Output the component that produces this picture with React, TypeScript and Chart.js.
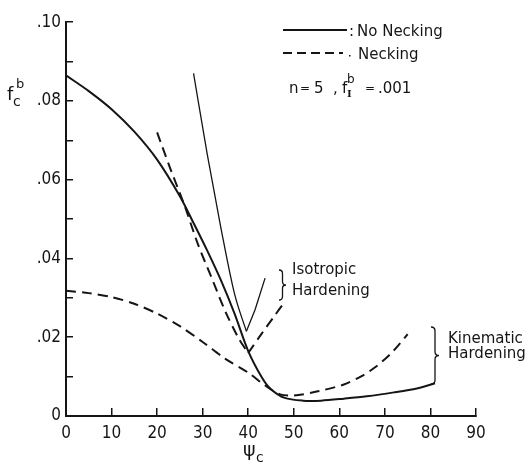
import React, { useEffect, useRef } from 'react';
import { Chart, registerables } from 'chart.js';

Chart.register(...registerables);

// ---- data ----
const xTickValues = [0, 10, 20, 30, 40, 50, 60, 70, 80, 90];
const yTickValues = [0, 0.01, 0.02, 0.03, 0.04, 0.05, 0.06, 0.07, 0.08, 0.09, 0.1];
const yTickLabels = ['0', '', '.02', '', '.04', '', '.06', '', '.08', '', '.10'];

// No necking, main curve (isotropic + kinematic branch)
const noNeckMainX = [0, 5, 10, 15, 20, 25, 28, 31, 34, 37, 40, 43, 45, 48, 52, 56, 61, 66, 72, 77, 81];
const noNeckMainY = [0.0865, 0.0825, 0.0779, 0.0722, 0.0651, 0.0558, 0.049, 0.042, 0.0345, 0.026, 0.0165, 0.0098, 0.0068, 0.0046, 0.0039, 0.0039, 0.0044, 0.005, 0.006, 0.007, 0.0083];

// No necking, isotropic hardening (thin line)
const noNeckIsoX = [28, 31, 34, 37, 39.6, 41.5, 43.7];
const noNeckIsoY = [0.087, 0.0665, 0.0478, 0.031, 0.0215, 0.027, 0.035];

// Necking, isotropic hardening
const neckIsoX = [20, 23, 26, 29, 32, 35, 38, 40, 43, 45.5, 48];
const neckIsoY = [0.072, 0.0625, 0.0535, 0.0435, 0.035, 0.0265, 0.0195, 0.016, 0.021, 0.025, 0.029];

// Necking, kinematic hardening
const neckKinX = [0, 5, 10, 15, 20, 25, 30, 35, 40, 44, 47, 50, 55, 61, 65, 68, 71, 73, 75];
const neckKinY = [0.0318, 0.0312, 0.0302, 0.0285, 0.026, 0.0228, 0.0188, 0.0145, 0.011, 0.0075, 0.0055, 0.0052, 0.0062, 0.008, 0.0102, 0.0125, 0.0155, 0.018, 0.0208];

const INK = '#151515';
const TEXT_FONT = '"DejaVu Sans", sans-serif';
const TICK_FONT = '"Liberation Sans Narrow", "DejaVu Sans Condensed", "DejaVu Sans", sans-serif';

function pts(xs: number[], ys: number[]) {
  return xs.map((x, i) => ({ x, y: ys[i] }));
}

// split a V-shaped series at its minimum so the vertex stays sharp
function splitAtMin(xs: number[], ys: number[]) {
  let k = 0;
  ys.forEach((y, i) => {
    if (y < ys[k]) k = i;
  });
  const all = pts(xs, ys);
  return [all.slice(0, k + 1), all.slice(k)];
}

function brace(ctx: CanvasRenderingContext2D, x: number, y1: number, y2: number, w: number) {
  const ym = (y1 + y2) / 2;
  const r = w / 2;
  ctx.beginPath();
  ctx.moveTo(x, y1);
  ctx.quadraticCurveTo(x + r, y1, x + r, y1 + r);
  ctx.lineTo(x + r, ym - r);
  ctx.quadraticCurveTo(x + r, ym, x + w, ym);
  ctx.quadraticCurveTo(x + r, ym, x + r, ym + r);
  ctx.lineTo(x + r, y2 - r);
  ctx.quadraticCurveTo(x + r, y2, x, y2);
  ctx.stroke();
}

const annotations = {
  id: 'annotations',
  afterDraw(chart: any) {
    const ctx: CanvasRenderingContext2D = chart.ctx;
    ctx.save();
    ctx.fillStyle = INK;
    ctx.strokeStyle = INK;
    ctx.textAlign = 'left';
    ctx.textBaseline = 'alphabetic';

    // legend
    ctx.lineWidth = 2;
    ctx.setLineDash([]);
    ctx.beginPath();
    ctx.moveTo(283, 30);
    ctx.lineTo(347, 30);
    ctx.stroke();
    ctx.setLineDash([9, 5]);
    ctx.beginPath();
    ctx.moveTo(283, 53);
    ctx.lineTo(343, 53);
    ctx.stroke();
    ctx.setLineDash([]);
    ctx.font = `15px ${TEXT_FONT}`;
    ctx.fillText(':', 349, 36);
    ctx.fillText('No Necking', 357, 36);
    ctx.fillRect(349, 55, 1.5, 1.5);
    ctx.fillText('Necking', 358, 59);

    // parameters
    ctx.fillText('n', 289, 93);
    ctx.fillText('5', 314, 93);
    ctx.fillText(',', 333, 93);
    ctx.fillText('f', 342, 93);
    ctx.fillText('.001', 378, 93);
    ctx.font = `12px ${TEXT_FONT}`;
    ctx.fillText('=', 300, 92);
    ctx.fillText('=', 365, 92);
    ctx.fillText('b', 347, 83);
    ctx.font = `bold 10px "DejaVu Serif", serif`;
    ctx.fillText('I', 347, 97);
    ctx.font = `15px ${TEXT_FONT}`;

    // curve labels
    ctx.fillText('Isotropic', 292, 274);
    ctx.fillText('Hardening', 292, 295);
    ctx.fillText('Kinematic', 448, 343);
    ctx.fillText('Hardening', 448, 358);
    ctx.lineWidth = 1.3;
    brace(ctx, 279, 270, 300, 7);
    brace(ctx, 431, 327, 384, 8);

    // y axis title
    ctx.font = `18px ${TEXT_FONT}`;
    ctx.fillText('f', 7, 100);
    ctx.font = `14px ${TEXT_FONT}`;
    ctx.fillText('c', 13, 106);
    ctx.font = `13px ${TEXT_FONT}`;
    ctx.fillText('b', 16, 88);

    // x axis title
    ctx.font = `19px ${TEXT_FONT}`;
    ctx.fillText('\u03c8', 243, 456);
    ctx.font = `14px ${TEXT_FONT}`;
    ctx.fillText('c', 256, 462);
    ctx.restore();
  },
};

export default function App() {
  const ref = useRef<HTMLCanvasElement | null>(null);

  useEffect(() => {
    document.body.style.margin = '0';
    const canvas = ref.current;
    if (!canvas) return;
    const common = { pointRadius: 0, borderColor: INK, showLine: true, fill: false, tension: 0.3 };
    const dash = [10, 6];
    const [thinL, thinR] = splitAtMin(noNeckIsoX, noNeckIsoY);
    const [isoL, isoR] = splitAtMin(neckIsoX, neckIsoY);
    const chart = new Chart(canvas, {
      type: 'scatter',
      data: {
        datasets: [
          { ...common, label: 'No Necking', data: pts(noNeckMainX, noNeckMainY), borderWidth: 2 },
          { ...common, label: 'No Necking (isotropic)', data: thinL, borderWidth: 1.3, cubicInterpolationMode: 'monotone' },
          { ...common, label: 'No Necking (isotropic) b', data: thinR, borderWidth: 1.3, tension: 0 },
          { ...common, label: 'Necking (isotropic)', data: isoL, borderWidth: 2, borderDash: dash },
          { ...common, label: 'Necking (isotropic) b', data: isoR, borderWidth: 2, borderDash: dash },
          { ...common, label: 'Necking (kinematic)', data: pts(neckKinX, neckKinY), borderWidth: 2, borderDash: dash },
        ],
      },
      options: {
        responsive: false,
        animation: false,
        devicePixelRatio: 1,
        layout: { padding: { top: 16, right: 53, left: 0, bottom: 0 } },
        plugins: { legend: { display: false }, tooltip: { enabled: false } },
        scales: {
          x: {
            type: 'linear',
            min: 0,
            max: 90,
            afterBuildTicks: (s: any) => {
              s.ticks = xTickValues.map((v) => ({ value: v }));
            },
            afterFit: (s: any) => {
              s.height = 48;
            },
            ticks: {
              autoSkip: false,
              maxRotation: 0,
              padding: 15,
              color: INK,
              font: { family: TICK_FONT, size: 17 },
              callback: (v: any) => String(v),
            },
            grid: { drawOnChartArea: false, drawTicks: true, tickLength: -8, color: INK, lineWidth: 1.5 },
            border: { display: true, color: INK, width: 2 },
          },
          y: {
            type: 'linear',
            min: 0,
            max: 0.1,
            afterBuildTicks: (s: any) => {
              s.ticks = yTickValues.map((v) => ({ value: v }));
            },
            afterFit: (s: any) => {
              s.width = 66;
            },
            ticks: {
              autoSkip: false,
              padding: 12,
              color: INK,
              font: { family: TICK_FONT, size: 17 },
              callback: (_v: any, i: number) => yTickLabels[i],
            },
            grid: { drawOnChartArea: false, drawTicks: true, tickLength: -7, color: INK, lineWidth: 1.5 },
            border: { display: true, color: INK, width: 2 },
          },
        },
      },
      plugins: [annotations],
    });
    return () => chart.destroy();
  }, []);

  return <canvas ref={ref} width={529} height={464} style={{ display: 'block', width: 529, height: 464 }} />;
}
